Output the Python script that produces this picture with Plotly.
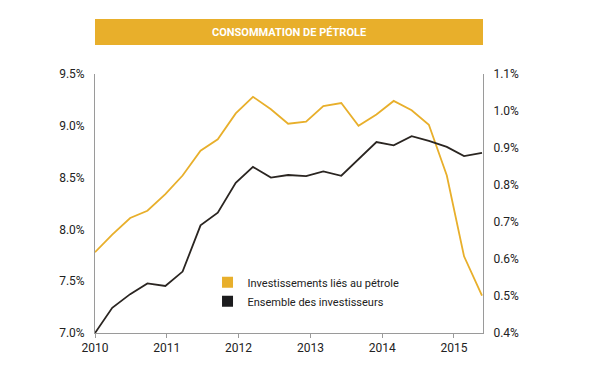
import plotly.graph_objects as go

# Data
years = [2010.00, 2010.24, 2010.49, 2010.73, 2010.98, 2011.22, 2011.47, 2011.71,
         2011.96, 2012.20, 2012.45, 2012.69, 2012.94, 2013.18, 2013.43, 2013.67,
         2013.92, 2014.16, 2014.41, 2014.65, 2014.90, 2015.14, 2015.39]
oil_invest = [7.78, 7.95, 8.11, 8.18, 8.34, 8.52, 8.76, 8.87,
              9.12, 9.28, 9.16, 9.02, 9.04, 9.19, 9.22, 9.00,
              9.11, 9.24, 9.15, 9.01, 8.52, 7.74, 7.36]
all_invest = [0.40, 0.468, 0.505, 0.534, 0.527, 0.566, 0.691, 0.725,
              0.806, 0.849, 0.820, 0.827, 0.824, 0.837, 0.825, 0.870,
              0.916, 0.907, 0.932, 0.919, 0.903, 0.878, 0.887]

series_names = ["Investissements liés au pétrole", "Ensemble des investisseurs"]
left_ticks = [7.0, 7.5, 8.0, 8.5, 9.0, 9.5]
right_ticks = [0.4, 0.5, 0.6, 0.7, 0.8, 0.9, 1.0, 1.1]
x_ticks = [2010, 2011, 2012, 2013, 2014, 2015]
title = "CONSOMMATION DE PÉTROLE"

GOLD = "#E8AF2B"
DARK = "#2A2521"
AXIS = "#9a9a9a"
FONT = "Roboto, Arial, sans-serif"

fig = go.Figure()
fig.add_trace(go.Scatter(x=years, y=oil_invest, mode="lines", yaxis="y",
                         line=dict(color=GOLD, width=1.8), showlegend=False,
                         name=series_names[0]))
fig.add_trace(go.Scatter(x=years, y=all_invest, mode="lines", yaxis="y2",
                         line=dict(color=DARK, width=1.8), showlegend=False,
                         name=series_names[1]))
# legend entries with square swatches
fig.add_trace(go.Scatter(x=[None], y=[None], mode="markers", name=series_names[0],
                         marker=dict(symbol="square", size=11, color=GOLD)))
fig.add_trace(go.Scatter(x=[None], y=[None], mode="markers", name=series_names[1],
                         marker=dict(symbol="square", size=11, color="#1c1c1e")))

fig.update_layout(
    width=600, height=375,
    margin=dict(l=87, r=125, t=66, b=50),
    paper_bgcolor="white", plot_bgcolor="white",
    font=dict(family=FONT, size=12, color="#222"),
    xaxis=dict(range=[2010, 2015.404], tickvals=x_ticks, ticktext=[str(v) for v in x_ticks],
               showgrid=False, zeroline=False, showline=True, linecolor=AXIS, linewidth=1,
               ticks="outside", ticklen=4, tickcolor=AXIS, tickfont=dict(size=12)),
    yaxis=dict(range=[7.0, 9.5], tickvals=left_ticks,
               ticktext=[f"{v:.1f}%" for v in left_ticks],
               showgrid=False, zeroline=False, showline=True, linecolor=AXIS, linewidth=1,
               ticks="", ticklabelstandoff=7, tickfont=dict(size=12)),
    yaxis2=dict(range=[0.4, 1.1], tickvals=right_ticks,
                ticktext=[f"{v:.1f}%" for v in right_ticks],
                overlaying="y", side="right",
                showgrid=False, zeroline=False, showline=True, linecolor=AXIS, linewidth=1,
                ticks="", ticklabelstandoff=7, tickfont=dict(size=12)),
    legend=dict(x=0.29, y=0.252, xanchor="left", yanchor="top",
                bgcolor="rgba(0,0,0,0)", font=dict(size=11, color="#222"),
                itemwidth=30, tracegroupgap=2),
    shapes=[dict(type="rect", xref="paper", yref="paper", x0=0, x1=1,
                 y0=1.112, y1=1.212, fillcolor=GOLD, line=dict(width=0), layer="above")],
    annotations=[dict(text=f"<b>{title}</b>", xref="paper", yref="paper", x=0.5, y=1.162,
                      xanchor="center", yanchor="middle", showarrow=False,
                      font=dict(family=FONT, size=11, color="white"))],
)

fig.write_html("out.html")
